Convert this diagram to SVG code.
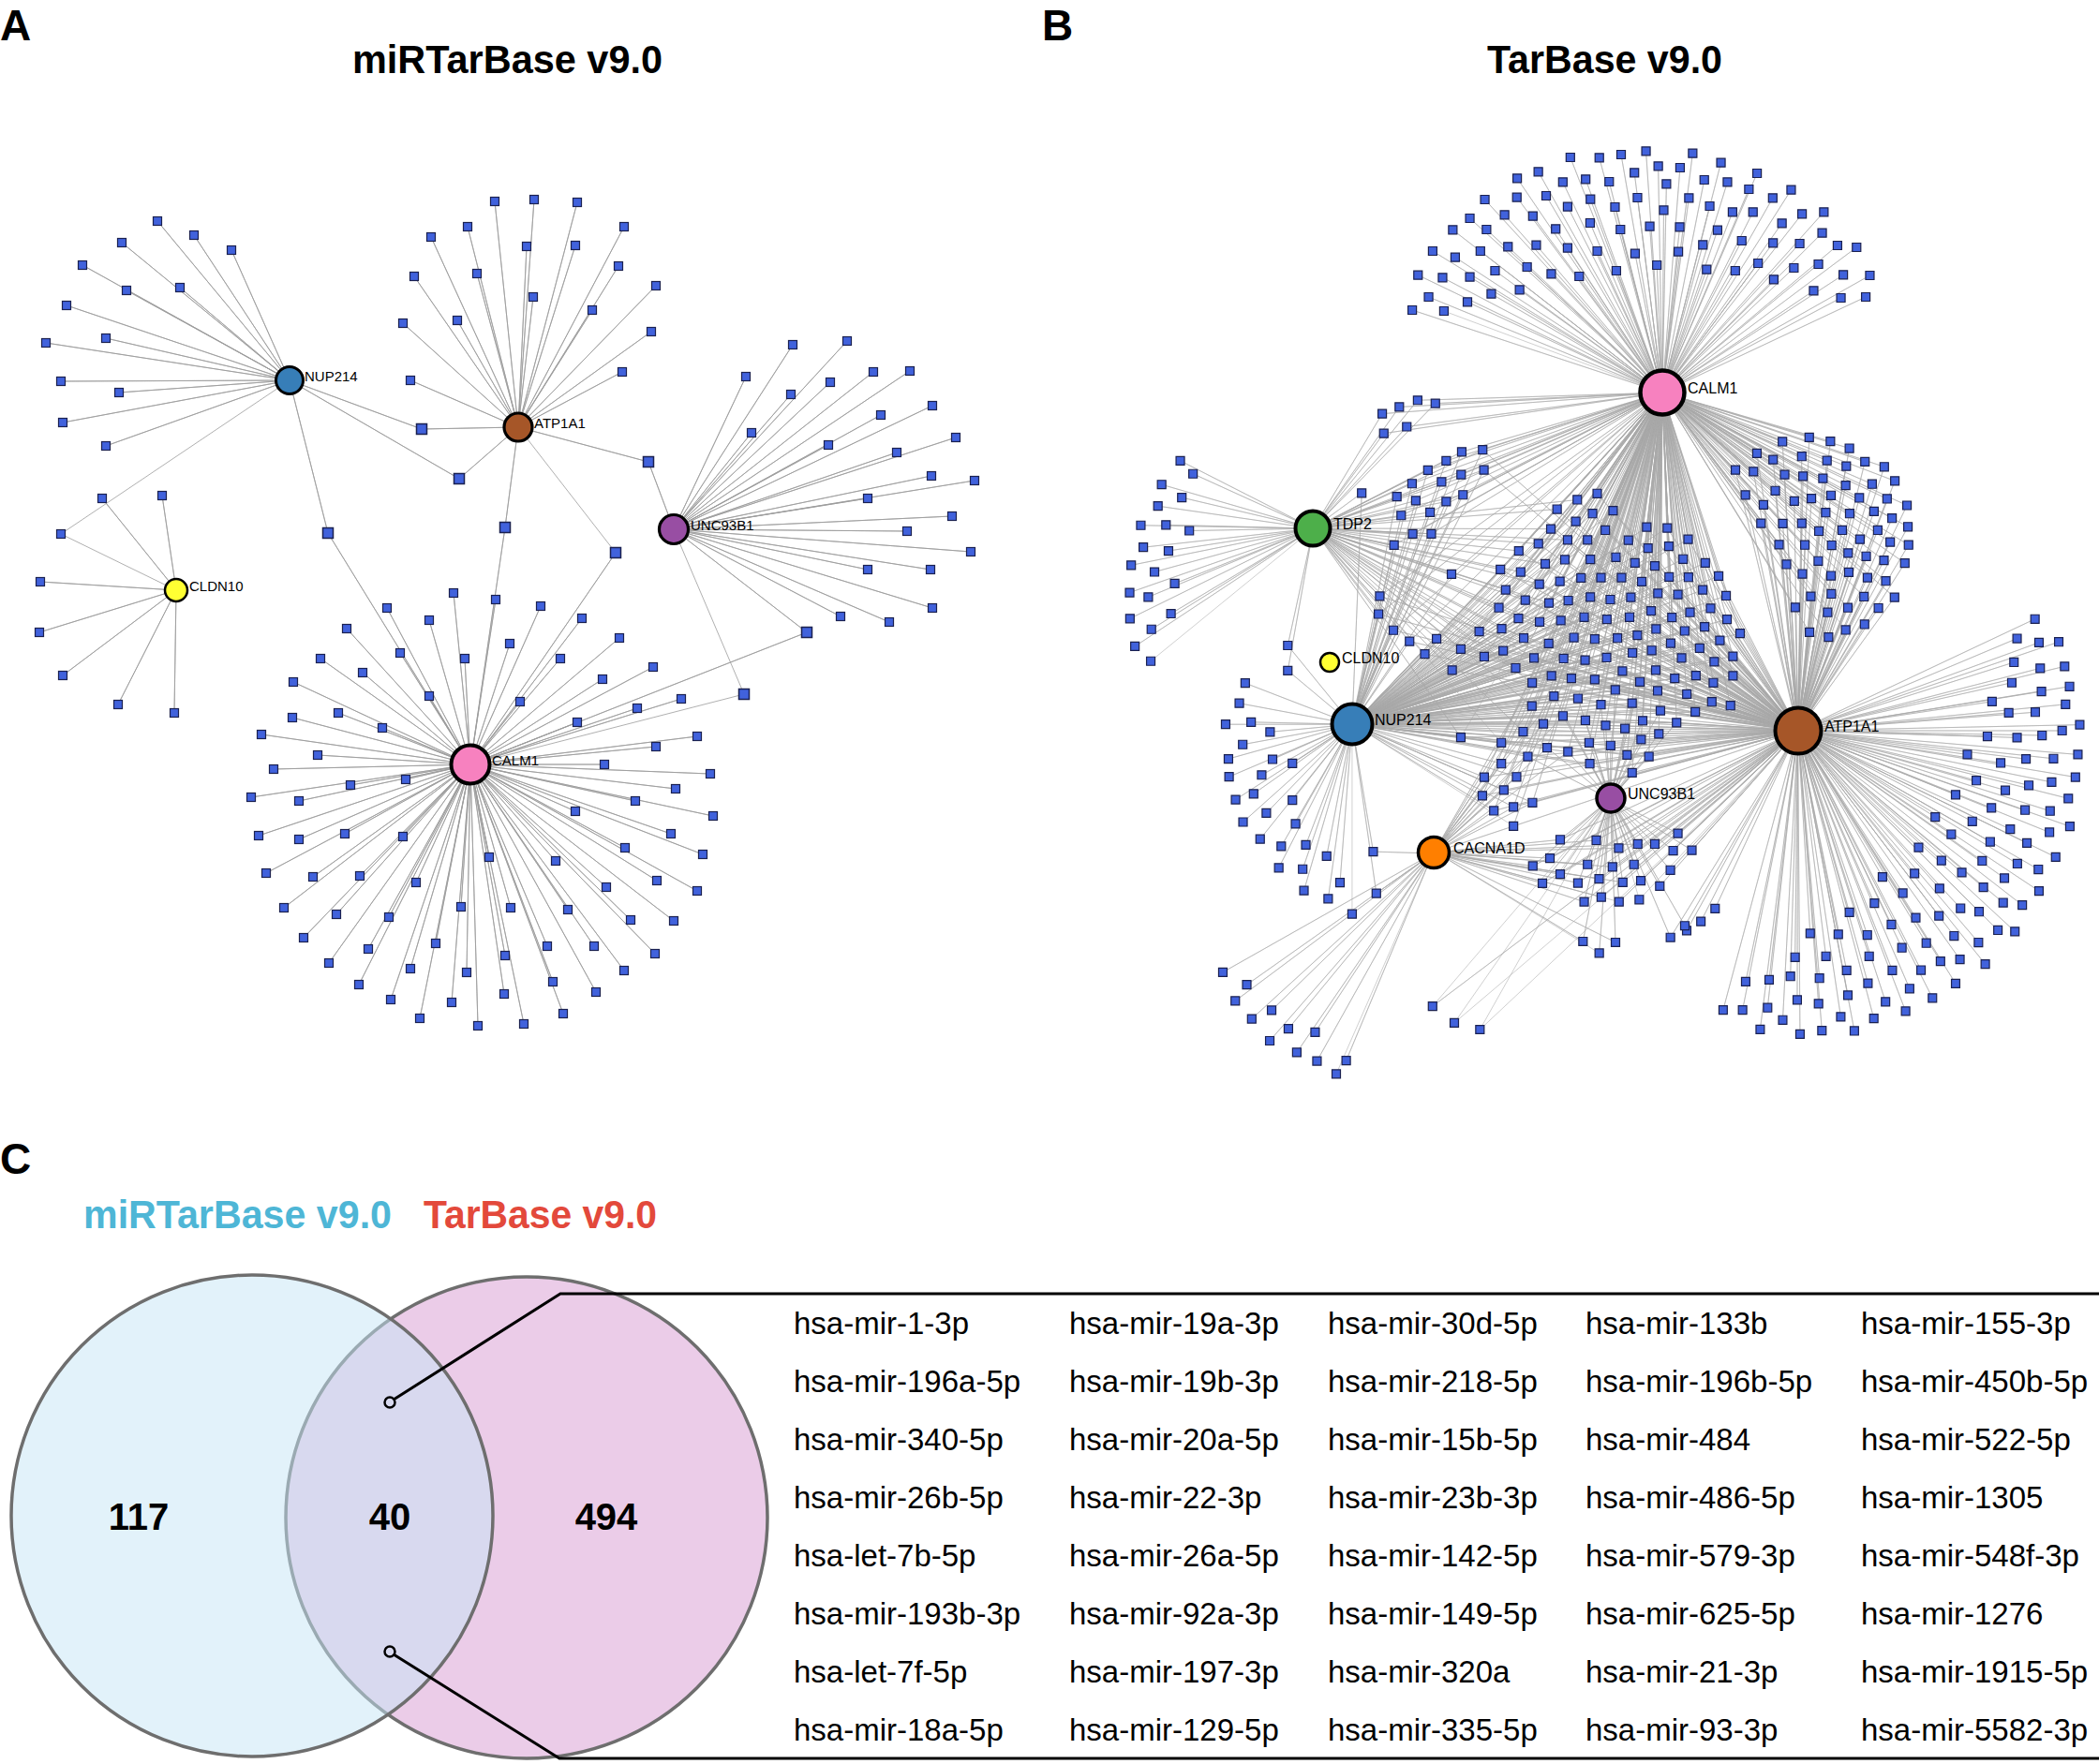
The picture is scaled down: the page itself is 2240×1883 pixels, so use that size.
<svg xmlns="http://www.w3.org/2000/svg" xmlns:xlink="http://www.w3.org/1999/xlink" width="2240" height="1883" viewBox="0 0 2240 1883">
<style>
text{font-family:"Liberation Sans",Arial,sans-serif;fill:#000}
.ttl{font-weight:bold;font-size:42px}
.pl{font-weight:bold;font-size:46px}
.la{font-size:15px}
.lb{font-size:16px}
.tb{font-size:33px}
.num{font-weight:bold;font-size:40px;text-anchor:middle}
.ea{fill:none;stroke:#9c9c9c;stroke-width:0.8;stroke-linejoin:round}
.eb{fill:none;stroke:#a8a8a8;stroke-width:0.55;stroke-linejoin:round;vector-effect:non-scaling-stroke}
.hub{stroke:#000}
</style>
<defs>
<rect id="sa" x="-4.5" y="-4.5" width="9" height="9" fill="#4162dc" stroke="#1b2150" stroke-width="1.2"/>
<rect id="sb" x="-5.5" y="-5.5" width="11" height="11" fill="#4162dc" stroke="#1b2150" stroke-width="1.5"/>
<rect id="q7" x="-12.4" y="-13.5" width="24.8" height="27" fill="#4162dc" stroke="#1b2150" stroke-width="1.2" vector-effect="non-scaling-stroke"/>
<rect id="q8" x="-13.6" y="-9.4" width="27.1" height="18.8" fill="#4162dc" stroke="#1b2150" stroke-width="1.2" vector-effect="non-scaling-stroke"/>
<rect id="q3" x="-13.5" y="-13.5" width="27" height="27" fill="#4162dc" stroke="#1b2150" stroke-width="1.2" vector-effect="non-scaling-stroke"/>
</defs>
<rect width="2240" height="1883" fill="#fff"/>

<!-- Panel titles -->
<text class="pl" x="0" y="43">A</text>
<text class="pl" x="1112" y="43">B</text>
<text class="pl" x="0" y="1253">C</text>
<text class="ttl" x="376" y="78" textLength="331" lengthAdjust="spacingAndGlyphs">miRTarBase v9.0</text>
<text class="ttl" x="1587" y="78" textLength="251" lengthAdjust="spacingAndGlyphs">TarBase v9.0</text>

<g id="connectors">
<g id="edges-A">
<path class="ea" d="M309 406L168 236 309 406 207 251 309 406 247 267 309 406 130 259 309 406 88 283 309 406 135 310 309 406 192 307 309 406 71 326 309 406 113 361 309 406 49 366 309 406 65 407 309 406 127 419 309 406 67 451 309 406 113 476 309 406 450 458 309 406 490 511 309 406 350 569 309 406 65 570"/>
<path class="ea" d="M188 630L109 532 188 630 173 529 188 630 43 621 188 630 42 675 188 630 67 721 188 630 126 752 188 630 186 761 188 630 65 570"/>
<path class="ea" d="M553 456L528 215 553 456 570 213 553 456 616 216 553 456 499 242 553 456 460 253 553 456 562 263 553 456 614 262 553 456 666 242 553 456 442 295 553 456 509 292 553 456 660 284 553 456 569 317 553 456 700 305 553 456 632 331 553 456 430 345 553 456 488 342 553 456 695 354 553 456 664 397 553 456 438 406 553 456 450 458 553 456 490 511 553 456 692 493 553 456 539 563 553 456 657 590"/>
<path class="ea" d="M719 565L846 368 719 565 904 364 719 565 796 402 719 565 844 421 719 565 886 408 719 565 932 397 719 565 971 396 719 565 802 462 719 565 940 443 719 565 995 433 719 565 884 475 719 565 1020 467 719 565 957 483 719 565 994 508 719 565 1040 513 719 565 926 532 719 565 1016 551 719 565 968 567 719 565 1036 589 719 565 926 608 719 565 993 608 719 565 995 649 719 565 897 658 719 565 949 664 719 565 692 493 719 565 861 675 719 565 794 741"/>
<path class="ea" d="M502 816L484 633 502 816 529 640 502 816 577 647 502 816 413 649 502 816 458 662 502 816 621 660 502 816 370 671 502 816 544 687 502 816 661 681 502 816 427 697 502 816 496 703 502 816 598 703 502 816 342 703 502 816 387 718 502 816 697 712 502 816 643 725 502 816 313 728 502 816 458 743 502 816 555 749 502 816 727 746 502 816 680 756 502 816 361 761 502 816 312 766 502 816 408 777 502 816 616 771 502 816 279 784 502 816 744 786 502 816 339 806 502 816 700 797 502 816 292 821 502 816 645 816 502 816 758 826 502 816 433 832 502 816 374 838 502 816 268 851 502 816 319 855 502 816 721 842 502 816 678 855 502 816 614 866 502 816 761 871 502 816 276 892 502 816 319 896 502 816 368 890 502 816 430 893 502 816 716 890 502 816 667 905 502 816 750 912 502 816 522 915 502 816 593 919 502 816 284 932 502 816 334 936 502 816 384 935 502 816 444 942 502 816 701 940 502 816 744 951 502 816 647 947 502 816 303 969 502 816 359 976 502 816 492 968 502 816 545 969 502 816 606 971 502 816 415 979 502 816 719 983 502 816 673 982 502 816 324 1001 502 816 465 1007 502 816 584 1010 502 816 634 1010 502 816 699 1018 502 816 393 1013 502 816 539 1020 502 816 351 1028 502 816 438 1034 502 816 498 1038 502 816 666 1036 502 816 383 1051 502 816 590 1048 502 816 538 1061 502 816 636 1059 502 816 417 1067 502 816 482 1070 502 816 601 1082 502 816 448 1087 502 816 510 1095 502 816 559 1093 502 816 350 569 502 816 539 563 502 816 657 590 502 816 861 675 502 816 794 741"/>
</g>
<g id="edges-B">
<path class="eb" transform="matrix(0.36364 0 0 0.33333 1450 130)" d="M891 867L621 114 891 867 706 115 891 867 770 105 891 867 843 94 891 867 980 101 891 867 1063 131 891 867 1169 165 891 867 879 142 891 867 943 147 891 867 809 163 891 867 1014 186 891 867 1082 193 891 867 1145 216 891 867 1269 218 891 867 1215 244 891 867 465 181 891 867 527 160 891 867 599 193 891 867 666 184 891 867 735 192 891 867 903 199 891 867 370 249 891 867 464 242 891 867 550 237 891 867 613 272 891 867 680 248 891 867 752 273 891 867 818 243 891 867 969 244 891 867 1030 270 891 867 1097 289 891 867 1157 289 891 867 1301 295 891 867 1365 289 891 867 1242 325 891 867 326 309 891 867 428 298 891 867 511 302 891 867 679 324 891 867 768 345 891 867 895 283 891 867 854 335 891 867 942 337 891 867 1053 347 891 867 1360 356 891 867 276 346 891 867 375 345 891 867 578 343 891 867 1124 381 891 867 1216 388 891 867 1294 390 891 867 1405 396 891 867 1461 402 891 867 217 414 891 867 283 434 891 867 357 414 891 867 438 400 891 867 521 395 891 867 613 404 891 867 700 414 891 867 811 422 891 867 938 416 891 867 1010 394 891 867 174 491 891 867 246 499 891 867 326 497 891 867 400 477 891 867 494 465 891 867 565 487 891 867 647 495 891 867 756 477 891 867 875 459 891 867 1021 473 891 867 1105 477 891 867 1172 453 891 867 1277 468 891 867 1349 456 891 867 1422 490 891 867 1500 492 891 867 1218 505 891 867 205 561 891 867 319 577 891 867 389 551 891 867 472 538 891 867 1335 541 891 867 1415 564 891 867 1488 561 891 867 157 603 891 867 250 606"/>
<g transform="matrix(0.33156 0 0 0.47847 1180 400)">
<path class="eb" d="M1792 40L890 87 1792 40 945 72 1792 40 1004 57 1792 40 1061 64 1792 40 895 131 1792 40 969 116 1792 40 1037 213 1792 40 1096 192 1792 40 1146 172 1792 40 986 243 1792 40 1081 239 1792 40 1144 223 1792 40 937 272 1792 40 998 281 1792 40 1096 283 1792 40 1150 268 1792 40 1044 307 1792 40 951 314 1792 40 988 355 1792 40 1048 355 1792 40 928 380 1792 40 1113 445 1792 40 882 494 1792 40 878 534 1792 40 926 570 1792 40 978 595 1792 40 1065 589 1792 40 1027 623 1792 40 1143 612 1792 40 1115 659 1792 40 1143 809"/>
<path class="eb" d="M668 343L890 87 668 343 945 72 668 343 1004 57 668 343 1061 64 668 343 895 131 668 343 969 116 668 343 824 264 668 343 1037 213 668 343 1096 192 668 343 1146 172 668 343 986 243 668 343 1081 239 668 343 1144 223 668 343 937 272 668 343 998 281 668 343 1096 283 668 343 1150 268 668 343 1044 307 668 343 951 314 668 343 988 355 668 343 1048 355 668 343 928 380 668 343 1113 445 668 343 882 494 668 343 878 534 668 343 926 570 668 343 978 595 668 343 1065 589 668 343 1027 623 668 343 1143 612 668 343 1115 659 668 343 1143 809 668 343 586 604 668 343 586 660 668 343 240 192 668 343 281 221 668 343 180 245 668 343 245 274 668 343 168 293 668 343 113 336 668 343 194 335 668 343 269 348 668 343 121 385 668 343 202 393 668 343 82 425 668 343 157 440 668 343 222 466 668 343 77 486 668 343 137 496 668 343 78 544 668 343 210 533 668 343 147 568 668 343 94 606 668 343 145 639"/>
<path class="eb" d="M793 780L824 264 793 780 1037 213 793 780 1096 192 793 780 1146 172 793 780 986 243 793 780 1081 239 793 780 1144 223 793 780 937 272 793 780 998 281 793 780 1096 283 793 780 1150 268 793 780 1044 307 793 780 951 314 793 780 988 355 793 780 1048 355 793 780 928 380 793 780 1113 445 793 780 882 494 793 780 878 534 793 780 926 570 793 780 978 595 793 780 1065 589 793 780 1027 623 793 780 1143 612 793 780 1115 659 793 780 1143 809 793 780 586 604 793 780 586 660 793 780 449 688 793 780 430 733 793 780 386 780 793 780 468 775 793 780 529 797 793 780 441 825 793 780 395 857 793 780 537 858 793 780 601 867 793 780 397 897 793 780 502 893 793 780 418 948 793 780 476 935 793 780 601 949 793 780 517 978 793 780 442 998 793 780 611 1002 793 780 497 1036 793 780 565 1052 793 780 644 1049 793 780 557 1100 793 780 634 1103 793 780 711 1074 793 780 638 1151 793 780 754 1133 793 780 716 1169 793 780 861 1064 793 780 871 1157 793 780 793 1203"/>
<path class="eb" d="M2229 794L882 494 2229 794 878 534 2229 794 926 570 2229 794 978 595 2229 794 1065 589 2229 794 1027 623 2229 794 1143 612 2229 794 1115 659 2229 794 1143 809 2229 794 1052 1409 2229 794 1122 1446 1626 945 1052 1409"/>
<path class="eb" d="M1053 1068L861 1064 1053 1068 871 1157 1053 1068 377 1333 1053 1068 454 1361 1053 1068 417 1397 1053 1068 534 1418 1053 1068 470 1437 1053 1068 588 1459 1053 1068 674 1467 1053 1068 528 1486 1053 1068 615 1512 1053 1068 680 1531 1053 1068 774 1530 1053 1068 742 1560"/>
</g>
<g transform="matrix(0.33223 0 0 0.33501 1560 440)">
<path class="eb" d="M644 -63L67 120 644 -63 71 184 644 -63 435 259 644 -63 371 279 644 -63 306 309 644 -63 420 323 644 -63 486 314 644 -63 366 348 644 -63 286 372 644 -63 461 376 644 -63 594 366 644 -63 660 369 644 -63 246 419 644 -63 340 407 644 -63 404 407 644 -63 535 408 644 -63 598 433 644 -63 665 427 644 -63 727 405 644 -63 183 442 644 -63 331 470 644 -63 413 469 644 -63 495 462 644 -63 268 483 644 -63 556 480 644 -63 620 490 644 -63 711 468 644 -63 782 480 644 -63 124 501 644 -63 189 509 644 -63 249 548 644 -63 315 539 644 -63 383 528 644 -63 447 527 644 -63 513 527 644 -63 578 540 644 -63 666 525 644 -63 728 526 644 -63 825 522 644 -63 141 566 644 -63 204 599 644 -63 280 608 644 -63 342 600 644 -63 413 589 644 -63 477 597 644 -63 543 590 644 -63 630 577 644 -63 694 581 644 -63 774 566 644 -63 849 585 644 -63 119 623 644 -63 182 657 644 -63 250 668 644 -63 318 664 644 -63 393 653 644 -63 466 660 644 -63 539 653 644 -63 608 633 644 -63 675 654 644 -63 733 638 644 -63 799 625 644 -63 852 660 644 -63 56 699 644 -63 128 690 644 -63 199 720 644 -63 279 737 644 -63 360 718 644 -63 427 723 644 -63 500 720 644 -63 564 711 644 -63 624 691 644 -63 716 697 644 -63 780 684 644 -63 894 705 644 -63 72 779 644 -63 133 760 644 -63 232 783 644 -63 327 785 644 -63 396 790 644 -63 465 782 644 -63 548 767 644 -63 610 759 644 -63 671 736 644 -63 764 752 644 -63 829 727 644 -63 706 783 644 -63 871 778 644 -63 173 815 644 -63 288 840 644 -63 352 848 644 -63 427 852 644 -63 516 825 644 -63 623 822 644 -63 684 848 644 -63 752 839 644 -63 811 795 644 -63 871 840 644 -63 226 862 644 -63 296 905 644 -63 373 912 644 -63 493 885 644 -63 572 859 644 -63 629 888 644 -63 723 898 644 -63 808 862 644 -63 225 936 644 -63 325 968 644 -63 447 932 644 -63 547 927 644 -63 638 951 644 -63 750 955 644 -63 803 923 644 -63 863 935 644 -63 197 1018 644 -63 262 993 644 -63 397 982 644 -63 462 998 644 -63 524 1008 644 -63 581 983 644 -63 690 989 644 -63 127 1053 644 -63 274 1069 644 -63 341 1082 644 -63 409 1053 644 -63 478 1062 644 -63 576 1043 644 -63 633 1025 644 -63 212 1097 644 -63 127 1120 644 -63 411 1120 644 -63 531 1092 644 -63 601 1097 644 -63 547 1149 644 -63 72 1163 644 -63 176 1162 644 -63 135 1204 644 -63 66 1222 644 -63 227 1244 644 -63 166 1258 644 -63 103 1270 644 -63 166 1319 644 -63 1030 94 644 -63 1116 80 644 -63 1184 93 644 -63 1245 115 644 -63 948 131 644 -63 1000 151 644 -63 1092 141 644 -63 1173 154 644 -63 1295 158 644 -63 1357 174 644 -63 879 184 644 -63 937 189 644 -63 1037 199 644 -63 1096 204 644 -63 1160 211 644 -63 1235 172 644 -63 1391 219 644 -63 1233 233 644 -63 1318 229 644 -63 911 264 644 -63 1007 250 644 -63 1068 283 644 -63 1123 275 644 -63 1186 265 644 -63 1277 273 644 -63 1366 276 644 -63 1430 297 644 -63 969 295 644 -63 1169 320 644 -63 1246 323 644 -63 1324 316 644 -63 1382 338 644 -63 961 354 644 -63 1031 355 644 -63 1092 354 644 -63 1147 379 644 -63 1222 376 644 -63 1336 376 644 -63 1433 365 644 -63 1019 422 644 -63 1102 423 644 -63 1188 424 644 -63 1279 405 644 -63 1376 414 644 -63 1435 423 644 -63 1241 449 644 -63 1299 459 644 -63 1356 472 644 -63 1423 481 644 -63 1043 485 644 -63 1094 515 644 -63 1145 474 644 -63 1186 521 644 -63 1243 510 644 -63 1303 527 644 -63 1362 538 644 -63 1121 587 644 -63 1187 579 644 -63 1292 588 644 -63 1390 590 644 -63 1071 622 644 -63 1175 638 644 -63 1240 623 644 -63 1117 701 644 -63 1178 717 644 -63 1233 694"/>
<path class="eb" d="M-349 994L67 120 -349 994 71 184 -349 994 435 259 -349 994 371 279 -349 994 306 309 -349 994 420 323 -349 994 486 314 -349 994 366 348 -349 994 286 372 -349 994 461 376 -349 994 594 366 -349 994 660 369 -349 994 246 419 -349 994 340 407 -349 994 404 407 -349 994 535 408 -349 994 598 433 -349 994 665 427 -349 994 727 405 -349 994 183 442 -349 994 331 470 -349 994 413 469 -349 994 495 462 -349 994 268 483 -349 994 556 480 -349 994 620 490 -349 994 711 468 -349 994 782 480 -349 994 124 501 -349 994 189 509 -349 994 249 548 -349 994 315 539 -349 994 383 528 -349 994 447 527 -349 994 513 527 -349 994 578 540 -349 994 666 525 -349 994 728 526 -349 994 825 522 -349 994 141 566 -349 994 204 599 -349 994 280 608 -349 994 342 600 -349 994 413 589 -349 994 477 597 -349 994 543 590 -349 994 630 577 -349 994 694 581 -349 994 774 566 -349 994 849 585 -349 994 119 623 -349 994 182 657 -349 994 250 668 -349 994 318 664 -349 994 393 653 -349 994 466 660 -349 994 539 653 -349 994 608 633 -349 994 675 654 -349 994 733 638 -349 994 799 625 -349 994 852 660 -349 994 56 699 -349 994 128 690 -349 994 199 720 -349 994 279 737 -349 994 360 718 -349 994 427 723 -349 994 500 720 -349 994 564 711 -349 994 624 691 -349 994 716 697 -349 994 780 684 -349 994 894 705 -349 994 72 779 -349 994 133 760 -349 994 232 783 -349 994 327 785 -349 994 396 790 -349 994 465 782 -349 994 548 767 -349 994 610 759 -349 994 671 736 -349 994 764 752 -349 994 829 727 -349 994 706 783 -349 994 871 778 -349 994 173 815 -349 994 288 840 -349 994 352 848 -349 994 427 852 -349 994 516 825 -349 994 623 822 -349 994 684 848 -349 994 752 839 -349 994 811 795 -349 994 871 840 -349 994 226 862 -349 994 296 905 -349 994 373 912 -349 994 493 885 -349 994 572 859 -349 994 629 888 -349 994 723 898 -349 994 808 862 -349 994 225 936 -349 994 325 968 -349 994 447 932 -349 994 547 927 -349 994 638 951 -349 994 750 955 -349 994 803 923 -349 994 863 935 -349 994 197 1018 -349 994 262 993 -349 994 397 982 -349 994 462 998 -349 994 524 1008 -349 994 581 983 -349 994 690 989 -349 994 127 1053 -349 994 274 1069 -349 994 341 1082 -349 994 409 1053 -349 994 478 1062 -349 994 576 1043 -349 994 633 1025 -349 994 212 1097 -349 994 127 1120 -349 994 411 1120 -349 994 531 1092 -349 994 601 1097 -349 994 547 1149 -349 994 72 1163 -349 994 176 1162 -349 994 135 1204 -349 994 66 1222 -349 994 227 1244 -349 994 166 1258 -349 994 103 1270 -349 994 166 1319"/>
<path class="eb" d="M1080 1015L67 120 1080 1015 71 184 1080 1015 435 259 1080 1015 371 279 1080 1015 306 309 1080 1015 420 323 1080 1015 486 314 1080 1015 366 348 1080 1015 286 372 1080 1015 461 376 1080 1015 594 366 1080 1015 660 369 1080 1015 246 419 1080 1015 340 407 1080 1015 404 407 1080 1015 535 408 1080 1015 598 433 1080 1015 665 427 1080 1015 727 405 1080 1015 183 442 1080 1015 331 470 1080 1015 413 469 1080 1015 495 462 1080 1015 268 483 1080 1015 556 480 1080 1015 620 490 1080 1015 711 468 1080 1015 782 480 1080 1015 124 501 1080 1015 189 509 1080 1015 249 548 1080 1015 315 539 1080 1015 383 528 1080 1015 447 527 1080 1015 513 527 1080 1015 578 540 1080 1015 666 525 1080 1015 728 526 1080 1015 825 522 1080 1015 141 566 1080 1015 204 599 1080 1015 280 608 1080 1015 342 600 1080 1015 413 589 1080 1015 477 597 1080 1015 543 590 1080 1015 630 577 1080 1015 694 581 1080 1015 774 566 1080 1015 849 585 1080 1015 119 623 1080 1015 182 657 1080 1015 250 668 1080 1015 318 664 1080 1015 393 653 1080 1015 466 660 1080 1015 539 653 1080 1015 608 633 1080 1015 675 654 1080 1015 733 638 1080 1015 799 625 1080 1015 852 660 1080 1015 56 699 1080 1015 128 690 1080 1015 199 720 1080 1015 279 737 1080 1015 360 718 1080 1015 427 723 1080 1015 500 720 1080 1015 564 711 1080 1015 624 691 1080 1015 716 697 1080 1015 780 684 1080 1015 894 705 1080 1015 72 779 1080 1015 133 760 1080 1015 232 783 1080 1015 327 785 1080 1015 396 790 1080 1015 465 782 1080 1015 548 767 1080 1015 610 759 1080 1015 671 736 1080 1015 764 752 1080 1015 829 727 1080 1015 706 783 1080 1015 871 778 1080 1015 173 815 1080 1015 288 840 1080 1015 352 848 1080 1015 427 852 1080 1015 516 825 1080 1015 623 822 1080 1015 684 848 1080 1015 752 839 1080 1015 811 795 1080 1015 871 840 1080 1015 226 862 1080 1015 296 905 1080 1015 373 912 1080 1015 493 885 1080 1015 572 859 1080 1015 629 888 1080 1015 723 898 1080 1015 808 862 1080 1015 225 936 1080 1015 325 968 1080 1015 447 932 1080 1015 547 927 1080 1015 638 951 1080 1015 750 955 1080 1015 803 923 1080 1015 863 935 1080 1015 197 1018 1080 1015 262 993 1080 1015 397 982 1080 1015 462 998 1080 1015 524 1008 1080 1015 581 983 1080 1015 690 989 1080 1015 127 1053 1080 1015 274 1069 1080 1015 341 1082 1080 1015 409 1053 1080 1015 478 1062 1080 1015 576 1043 1080 1015 633 1025 1080 1015 212 1097 1080 1015 127 1120 1080 1015 411 1120 1080 1015 531 1092 1080 1015 601 1097 1080 1015 547 1149 1080 1015 72 1163 1080 1015 176 1162 1080 1015 135 1204 1080 1015 66 1222 1080 1015 227 1244 1080 1015 166 1258 1080 1015 103 1270 1080 1015 166 1319 1080 1015 1030 94 1080 1015 1116 80 1080 1015 1184 93 1080 1015 1245 115 1080 1015 948 131 1080 1015 1000 151 1080 1015 1092 141 1080 1015 1173 154 1080 1015 1295 158 1080 1015 1357 174 1080 1015 879 184 1080 1015 937 189 1080 1015 1037 199 1080 1015 1096 204 1080 1015 1160 211 1080 1015 1235 172 1080 1015 1391 219 1080 1015 1233 233 1080 1015 1318 229 1080 1015 911 264 1080 1015 1007 250 1080 1015 1068 283 1080 1015 1123 275 1080 1015 1186 265 1080 1015 1277 273 1080 1015 1366 276 1080 1015 1430 297 1080 1015 969 295 1080 1015 1169 320 1080 1015 1246 323 1080 1015 1324 316 1080 1015 1382 338 1080 1015 961 354 1080 1015 1031 355 1080 1015 1092 354 1080 1015 1147 379 1080 1015 1222 376 1080 1015 1336 376 1080 1015 1433 365 1080 1015 1019 422 1080 1015 1102 423 1080 1015 1188 424 1080 1015 1279 405 1080 1015 1376 414 1080 1015 1435 423 1080 1015 1241 449 1080 1015 1299 459 1080 1015 1356 472 1080 1015 1423 481 1080 1015 1043 485 1080 1015 1094 515 1080 1015 1145 474 1080 1015 1186 521 1080 1015 1243 510 1080 1015 1303 527 1080 1015 1362 538 1080 1015 1121 587 1080 1015 1187 579 1080 1015 1292 588 1080 1015 1390 590 1080 1015 1071 622 1080 1015 1175 638 1080 1015 1240 623 1080 1015 1117 701 1080 1015 1178 717 1080 1015 1233 694 1080 1015 316 1362 1080 1015 432 1364 1080 1015 283 1421 1080 1015 504 1389 1080 1015 565 1376 1080 1015 620 1376 1080 1015 694 1342 1080 1015 679 1397 1080 1015 739 1396 1080 1015 228 1446 1080 1015 404 1441 1080 1015 484 1449 1080 1015 553 1441 1080 1015 670 1459 1080 1015 259 1501 1080 1015 316 1472 1080 1015 373 1500 1080 1015 441 1487 1080 1015 517 1498 1080 1015 575 1493 1080 1015 636 1510 1080 1015 448 1545 1080 1015 393 1560 1080 1015 505 1560 1080 1015 570 1553"/>
<path class="eb" d="M-477 370L67 120 -477 370 71 184 -477 370 371 279 -477 370 306 309 -477 370 286 372 -477 370 246 419 -477 370 340 407 -477 370 183 442 -477 370 268 483 -477 370 124 501 -477 370 189 509 -477 370 249 548 -477 370 141 566 -477 370 204 599 -477 370 280 608 -477 370 119 623 -477 370 182 657 -477 370 250 668 -477 370 56 699 -477 370 128 690 -477 370 199 720 -477 370 72 779 -477 370 133 760 -477 370 232 783 -477 370 173 815 -477 370 226 862 -477 370 225 936 -477 370 197 1018 -477 370 127 1053"/>
<path class="eb" d="M477 1233L447 932 477 1233 547 927 477 1233 638 951 477 1233 397 982 477 1233 462 998 477 1233 524 1008 477 1233 581 983 477 1233 690 989 477 1233 341 1082 477 1233 409 1053 477 1233 478 1062 477 1233 576 1043 477 1233 633 1025 477 1233 411 1120 477 1233 531 1092 477 1233 601 1097 477 1233 547 1149 477 1233 373 912 477 1233 493 885 477 1233 572 859 477 1233 296 905 477 1233 325 968 477 1233 274 1069 477 1233 212 1097 477 1233 316 1362 477 1233 432 1364 477 1233 283 1421 477 1233 504 1389 477 1233 565 1376 477 1233 620 1376 477 1233 694 1342 477 1233 679 1397 477 1233 739 1396 477 1233 228 1446 477 1233 404 1441 477 1233 484 1449 477 1233 553 1441 477 1233 670 1459 477 1233 259 1501 477 1233 316 1472 477 1233 373 1500 477 1233 441 1487 477 1233 517 1498 477 1233 575 1493 477 1233 636 1510 477 1233 448 1545 477 1233 393 1560 477 1233 505 1560 477 1233 570 1553"/>
<path class="eb" d="M-90 1403L72 1163 -90 1403 176 1162 -90 1403 135 1204 -90 1403 66 1222 -90 1403 227 1244 -90 1403 166 1258 -90 1403 103 1270 -90 1403 166 1319 -90 1403 127 1120 -90 1403 127 1053 -90 1403 212 1097 -90 1403 274 1069 -90 1403 341 1082 -90 1403 197 1018 -90 1403 262 993 -90 1403 225 936 -90 1403 325 968 -90 1403 296 905 -90 1403 226 862 -90 1403 316 1362 -90 1403 432 1364 -90 1403 283 1421 -90 1403 504 1389 -90 1403 565 1376 -90 1403 228 1446 -90 1403 404 1441 -90 1403 484 1449 -90 1403 259 1501 -90 1403 316 1472 -90 1403 373 1500 -90 1403 441 1487 -90 1403 517 1498 -90 1403 448 1545 -90 1403 393 1560 -90 1403 505 1560"/>
</g>
<path class="eb" transform="matrix(0.32949 0 0 0.3349 1800 640)" d="M360 418L1128 62 360 418 1070 124 360 418 1141 137 360 418 1205 135 360 418 1060 200 360 418 1145 219 360 418 1224 213 360 418 1053 265 360 418 1149 293 360 418 1240 277 360 418 989 325 360 418 1043 361 360 418 1129 359 360 418 1227 334 360 418 974 436 360 418 1070 440 360 418 1151 433 360 418 1216 418 360 418 1273 399 360 418 909 494 360 418 1017 521 360 418 1099 508 360 418 1188 507 360 418 1267 494 360 418 938 577 360 418 1032 608 360 418 1108 592 360 418 1182 582 360 418 1259 566 360 418 871 622 360 418 987 664 360 418 1096 671 360 418 1177 674 360 418 1236 634 360 418 805 693 360 418 925 707 360 418 1048 732 360 418 1175 742 360 418 1241 723 360 418 857 748 360 418 983 772 360 418 1102 776 360 418 751 790 360 418 825 832 360 418 957 833 360 418 1071 842 360 418 1195 821 360 418 1139 860 360 418 634 884 360 418 738 873 360 418 891 870 360 418 1029 888 360 418 961 917 360 418 1141 929 360 418 700 936 360 418 819 921 360 418 608 968 360 418 887 984 360 418 947 995 360 418 1025 966 360 418 1087 974 360 418 527 997 360 418 663 1036 360 418 742 1014 360 418 817 1008 360 418 1008 1054 360 418 1063 1058 360 418 400 1064 360 418 491 1067 360 418 585 1069 360 418 866 1072 360 418 945 1093 360 418 697 1110 360 418 776 1095 360 418 351 1140 360 418 451 1137 360 418 591 1137 360 418 822 1153 360 418 885 1147 360 418 967 1162 360 418 518 1182 360 418 666 1182 360 418 759 1181 360 418 191 1218 360 418 267 1212 360 418 336 1201 360 418 430 1207 360 418 587 1223 360 418 722 1240 360 418 871 1224 360 418 118 1308 360 418 181 1308 360 418 262 1301 360 418 358 1276 360 418 427 1288 360 418 522 1261 360 418 644 1282 360 418 796 1270 360 418 709 1312 360 418 238 1370 360 418 311 1340 360 418 367 1385 360 418 438 1374 360 418 499 1330 360 418 543 1375 360 418 606 1335 360 418 92 985 360 418 46 1026 360 418 0 1055 360 418 621 27 360 418 576 79"/>
<path class="eb" transform="matrix(0.33333 0 0 0.32787 1480 800)" d="M155 333L628 625 155 333 732 628 155 333 680 663M717 155L628 625 717 155 732 628 717 155 680 663 717 155 908 612 717 155 954 574 717 155 298 912M1317 -61L908 612 1317 -61 954 574 1317 -61 298 912"/>
</g>
</g>

<!-- Panel A mirna nodes -->
<g id="A-mirnas">
<g id="A-mir-NUP214">
<use href="#sa" x="168" y="236"/><use href="#sa" x="207" y="251"/><use href="#sa" x="247" y="267"/><use href="#sa" x="130" y="259"/><use href="#sa" x="88" y="283"/><use href="#sa" x="135" y="310"/><use href="#sa" x="192" y="307"/><use href="#sa" x="71" y="326"/><use href="#sa" x="113" y="361"/><use href="#sa" x="49" y="366"/><use href="#sa" x="65" y="407"/><use href="#sa" x="127" y="419"/><use href="#sa" x="67" y="451"/><use href="#sa" x="113" y="476"/><use href="#sa" x="65" y="570"/>
</g>
<g id="A-mir-CLDN10">
<use href="#sa" x="109" y="532"/><use href="#sa" x="173" y="529"/><use href="#sa" x="43" y="621"/><use href="#sa" x="42" y="675"/><use href="#sa" x="67" y="721"/><use href="#sa" x="126" y="752"/><use href="#sa" x="186" y="761"/>
</g>
<g id="A-mir-ATP1A1">
<use href="#sa" x="528" y="215"/><use href="#sa" x="570" y="213"/><use href="#sa" x="616" y="216"/><use href="#sa" x="499" y="242"/><use href="#sa" x="460" y="253"/><use href="#sa" x="562" y="263"/><use href="#sa" x="614" y="262"/><use href="#sa" x="666" y="242"/><use href="#sa" x="442" y="295"/><use href="#sa" x="509" y="292"/><use href="#sa" x="660" y="284"/><use href="#sa" x="569" y="317"/><use href="#sa" x="700" y="305"/><use href="#sa" x="632" y="331"/><use href="#sa" x="430" y="345"/><use href="#sa" x="488" y="342"/><use href="#sa" x="695" y="354"/><use href="#sa" x="664" y="397"/><use href="#sa" x="438" y="406"/>
</g>
<g id="A-mir-UNC93B1">
<use href="#sa" x="846" y="368"/><use href="#sa" x="904" y="364"/><use href="#sa" x="796" y="402"/><use href="#sa" x="844" y="421"/><use href="#sa" x="886" y="408"/><use href="#sa" x="932" y="397"/><use href="#sa" x="971" y="396"/><use href="#sa" x="802" y="462"/><use href="#sa" x="940" y="443"/><use href="#sa" x="995" y="433"/><use href="#sa" x="884" y="475"/><use href="#sa" x="1020" y="467"/><use href="#sa" x="957" y="483"/><use href="#sa" x="994" y="508"/><use href="#sa" x="1040" y="513"/><use href="#sa" x="926" y="532"/><use href="#sa" x="1016" y="551"/><use href="#sa" x="968" y="567"/><use href="#sa" x="1036" y="589"/><use href="#sa" x="926" y="608"/><use href="#sa" x="993" y="608"/><use href="#sa" x="995" y="649"/><use href="#sa" x="897" y="658"/><use href="#sa" x="949" y="664"/>
</g>
<g id="A-mir-CALM1">
<use href="#sa" x="484" y="633"/><use href="#sa" x="529" y="640"/><use href="#sa" x="577" y="647"/><use href="#sa" x="413" y="649"/><use href="#sa" x="458" y="662"/><use href="#sa" x="621" y="660"/><use href="#sa" x="370" y="671"/><use href="#sa" x="544" y="687"/><use href="#sa" x="661" y="681"/><use href="#sa" x="427" y="697"/><use href="#sa" x="496" y="703"/><use href="#sa" x="598" y="703"/><use href="#sa" x="342" y="703"/><use href="#sa" x="387" y="718"/><use href="#sa" x="697" y="712"/><use href="#sa" x="643" y="725"/><use href="#sa" x="313" y="728"/><use href="#sa" x="458" y="743"/><use href="#sa" x="555" y="749"/><use href="#sa" x="727" y="746"/><use href="#sa" x="680" y="756"/><use href="#sa" x="361" y="761"/><use href="#sa" x="312" y="766"/><use href="#sa" x="408" y="777"/><use href="#sa" x="616" y="771"/><use href="#sa" x="279" y="784"/><use href="#sa" x="744" y="786"/><use href="#sa" x="339" y="806"/><use href="#sa" x="700" y="797"/><use href="#sa" x="292" y="821"/><use href="#sa" x="645" y="816"/><use href="#sa" x="758" y="826"/><use href="#sa" x="433" y="832"/><use href="#sa" x="374" y="838"/><use href="#sa" x="268" y="851"/><use href="#sa" x="319" y="855"/><use href="#sa" x="721" y="842"/><use href="#sa" x="678" y="855"/><use href="#sa" x="614" y="866"/><use href="#sa" x="761" y="871"/><use href="#sa" x="276" y="892"/><use href="#sa" x="319" y="896"/><use href="#sa" x="368" y="890"/><use href="#sa" x="430" y="893"/><use href="#sa" x="716" y="890"/><use href="#sa" x="667" y="905"/><use href="#sa" x="750" y="912"/><use href="#sa" x="522" y="915"/><use href="#sa" x="593" y="919"/><use href="#sa" x="284" y="932"/><use href="#sa" x="334" y="936"/><use href="#sa" x="384" y="935"/><use href="#sa" x="444" y="942"/><use href="#sa" x="701" y="940"/><use href="#sa" x="744" y="951"/><use href="#sa" x="647" y="947"/><use href="#sa" x="303" y="969"/><use href="#sa" x="359" y="976"/><use href="#sa" x="492" y="968"/><use href="#sa" x="545" y="969"/><use href="#sa" x="606" y="971"/><use href="#sa" x="415" y="979"/><use href="#sa" x="719" y="983"/><use href="#sa" x="673" y="982"/><use href="#sa" x="324" y="1001"/><use href="#sa" x="465" y="1007"/><use href="#sa" x="584" y="1010"/><use href="#sa" x="634" y="1010"/><use href="#sa" x="699" y="1018"/><use href="#sa" x="393" y="1013"/><use href="#sa" x="539" y="1020"/><use href="#sa" x="351" y="1028"/><use href="#sa" x="438" y="1034"/><use href="#sa" x="498" y="1038"/><use href="#sa" x="666" y="1036"/><use href="#sa" x="383" y="1051"/><use href="#sa" x="590" y="1048"/><use href="#sa" x="538" y="1061"/><use href="#sa" x="636" y="1059"/><use href="#sa" x="417" y="1067"/><use href="#sa" x="482" y="1070"/><use href="#sa" x="601" y="1082"/><use href="#sa" x="448" y="1087"/><use href="#sa" x="510" y="1095"/><use href="#sa" x="559" y="1093"/>
</g>
<g id="A-mir-shared">
<use href="#sb" x="450" y="458"/><use href="#sb" x="490" y="511"/><use href="#sb" x="350" y="569"/><use href="#sb" x="692" y="493"/><use href="#sb" x="539" y="563"/><use href="#sb" x="657" y="590"/><use href="#sb" x="861" y="675"/><use href="#sb" x="794" y="741"/>
</g>
</g>

<!-- Panel A hubs -->
<g id="A-NUP214"><circle class="hub" cx="309" cy="406" r="14.5" fill="#377eb8" stroke-width="3"/><text class="la" x="325" y="407">NUP214</text></g>
<g id="A-CLDN10"><circle class="hub" cx="188" cy="630" r="12" fill="#ffff33" stroke-width="2.5"/><text class="la" x="202" y="631">CLDN10</text></g>
<g id="A-ATP1A1"><circle class="hub" cx="553" cy="456" r="15" fill="#a65628" stroke-width="3.2"/><text class="la" x="570" y="457">ATP1A1</text></g>
<g id="A-UNC93B1"><circle class="hub" cx="719" cy="565" r="15.5" fill="#984ea3" stroke-width="3.2"/><text class="la" x="737" y="566">UNC93B1</text></g>
<g id="A-CALM1"><circle class="hub" cx="502" cy="816" r="20.5" fill="#f781bf" stroke-width="4"/><text class="la" x="525" y="817">CALM1</text></g>

<!-- Panel B mirna nodes -->
<g id="B-mirnas">
<g id="B-mir-CALM1-top" transform="matrix(0.36364 0 0 0.33333 1450 130)">
<use href="#q7" x="621" y="114"/><use href="#q7" x="706" y="115"/><use href="#q7" x="770" y="105"/><use href="#q7" x="843" y="94"/><use href="#q7" x="980" y="101"/><use href="#q7" x="1063" y="131"/><use href="#q7" x="1169" y="165"/><use href="#q7" x="879" y="142"/><use href="#q7" x="943" y="147"/><use href="#q7" x="809" y="163"/><use href="#q7" x="1014" y="186"/><use href="#q7" x="1082" y="193"/><use href="#q7" x="1145" y="216"/><use href="#q7" x="1269" y="218"/><use href="#q7" x="1215" y="244"/><use href="#q7" x="465" y="181"/><use href="#q7" x="527" y="160"/><use href="#q7" x="599" y="193"/><use href="#q7" x="666" y="184"/><use href="#q7" x="735" y="192"/><use href="#q7" x="903" y="199"/><use href="#q7" x="370" y="249"/><use href="#q7" x="464" y="242"/><use href="#q7" x="550" y="237"/><use href="#q7" x="613" y="272"/><use href="#q7" x="680" y="248"/><use href="#q7" x="752" y="273"/><use href="#q7" x="818" y="243"/><use href="#q7" x="969" y="244"/><use href="#q7" x="1030" y="270"/><use href="#q7" x="1097" y="289"/><use href="#q7" x="1157" y="289"/><use href="#q7" x="1301" y="295"/><use href="#q7" x="1365" y="289"/><use href="#q7" x="1242" y="325"/><use href="#q7" x="326" y="309"/><use href="#q7" x="428" y="298"/><use href="#q7" x="511" y="302"/><use href="#q7" x="679" y="324"/><use href="#q7" x="768" y="345"/><use href="#q7" x="895" y="283"/><use href="#q7" x="854" y="335"/><use href="#q7" x="942" y="337"/><use href="#q7" x="1053" y="347"/><use href="#q7" x="1360" y="356"/><use href="#q7" x="276" y="346"/><use href="#q7" x="375" y="345"/><use href="#q7" x="578" y="343"/><use href="#q7" x="1124" y="381"/><use href="#q7" x="1216" y="388"/><use href="#q7" x="1294" y="390"/><use href="#q7" x="1405" y="396"/><use href="#q7" x="1461" y="402"/><use href="#q7" x="217" y="414"/><use href="#q7" x="283" y="434"/><use href="#q7" x="357" y="414"/><use href="#q7" x="438" y="400"/><use href="#q7" x="521" y="395"/><use href="#q7" x="613" y="404"/><use href="#q7" x="700" y="414"/><use href="#q7" x="811" y="422"/><use href="#q7" x="938" y="416"/><use href="#q7" x="1010" y="394"/><use href="#q7" x="174" y="491"/><use href="#q7" x="246" y="499"/><use href="#q7" x="326" y="497"/><use href="#q7" x="400" y="477"/><use href="#q7" x="494" y="465"/><use href="#q7" x="565" y="487"/><use href="#q7" x="647" y="495"/><use href="#q7" x="756" y="477"/><use href="#q7" x="875" y="459"/><use href="#q7" x="1021" y="473"/><use href="#q7" x="1105" y="477"/><use href="#q7" x="1172" y="453"/><use href="#q7" x="1277" y="468"/><use href="#q7" x="1349" y="456"/><use href="#q7" x="1422" y="490"/><use href="#q7" x="1500" y="492"/><use href="#q7" x="1218" y="505"/><use href="#q7" x="205" y="561"/><use href="#q7" x="319" y="577"/><use href="#q7" x="389" y="551"/><use href="#q7" x="472" y="538"/><use href="#q7" x="1335" y="541"/><use href="#q7" x="1415" y="564"/><use href="#q7" x="1488" y="561"/><use href="#q7" x="157" y="603"/><use href="#q7" x="250" y="606"/>
</g>
<g id="B-mir-left" transform="matrix(0.33156 0 0 0.47847 1180 400)">
<use href="#q8" x="890" y="87"/><use href="#q8" x="945" y="72"/><use href="#q8" x="1004" y="57"/><use href="#q8" x="1061" y="64"/><use href="#q8" x="895" y="131"/><use href="#q8" x="969" y="116"/><use href="#q8" x="824" y="264"/><use href="#q8" x="1037" y="213"/><use href="#q8" x="1096" y="192"/><use href="#q8" x="1146" y="172"/><use href="#q8" x="986" y="243"/><use href="#q8" x="1081" y="239"/><use href="#q8" x="1144" y="223"/><use href="#q8" x="937" y="272"/><use href="#q8" x="998" y="281"/><use href="#q8" x="1096" y="283"/><use href="#q8" x="1150" y="268"/><use href="#q8" x="1044" y="307"/><use href="#q8" x="951" y="314"/><use href="#q8" x="988" y="355"/><use href="#q8" x="1048" y="355"/><use href="#q8" x="928" y="380"/><use href="#q8" x="1113" y="445"/><use href="#q8" x="882" y="494"/><use href="#q8" x="878" y="534"/><use href="#q8" x="926" y="570"/><use href="#q8" x="978" y="595"/><use href="#q8" x="1065" y="589"/><use href="#q8" x="1027" y="623"/><use href="#q8" x="1143" y="612"/><use href="#q8" x="1115" y="659"/><use href="#q8" x="1143" y="809"/>
<use href="#q8" x="240" y="192"/><use href="#q8" x="281" y="221"/><use href="#q8" x="180" y="245"/><use href="#q8" x="245" y="274"/><use href="#q8" x="168" y="293"/><use href="#q8" x="113" y="336"/><use href="#q8" x="194" y="335"/><use href="#q8" x="269" y="348"/><use href="#q8" x="121" y="385"/><use href="#q8" x="202" y="393"/><use href="#q8" x="82" y="425"/><use href="#q8" x="157" y="440"/><use href="#q8" x="222" y="466"/><use href="#q8" x="77" y="486"/><use href="#q8" x="137" y="496"/><use href="#q8" x="78" y="544"/><use href="#q8" x="210" y="533"/><use href="#q8" x="147" y="568"/><use href="#q8" x="94" y="606"/><use href="#q8" x="145" y="639"/>
<use href="#q8" x="586" y="604"/><use href="#q8" x="586" y="660"/><use href="#q8" x="449" y="688"/><use href="#q8" x="430" y="733"/><use href="#q8" x="386" y="780"/><use href="#q8" x="468" y="775"/><use href="#q8" x="529" y="797"/><use href="#q8" x="441" y="825"/><use href="#q8" x="395" y="857"/><use href="#q8" x="537" y="858"/><use href="#q8" x="601" y="867"/><use href="#q8" x="397" y="897"/><use href="#q8" x="502" y="893"/><use href="#q8" x="418" y="948"/><use href="#q8" x="476" y="935"/><use href="#q8" x="601" y="949"/><use href="#q8" x="517" y="978"/><use href="#q8" x="442" y="998"/><use href="#q8" x="611" y="1002"/><use href="#q8" x="497" y="1036"/><use href="#q8" x="565" y="1052"/><use href="#q8" x="644" y="1049"/><use href="#q8" x="557" y="1100"/><use href="#q8" x="634" y="1103"/><use href="#q8" x="711" y="1074"/><use href="#q8" x="638" y="1151"/><use href="#q8" x="754" y="1133"/><use href="#q8" x="716" y="1169"/><use href="#q8" x="861" y="1064"/><use href="#q8" x="871" y="1157"/><use href="#q8" x="793" y="1203"/>
<use href="#q8" x="377" y="1333"/><use href="#q8" x="454" y="1361"/><use href="#q8" x="417" y="1397"/><use href="#q8" x="534" y="1418"/><use href="#q8" x="470" y="1437"/><use href="#q8" x="588" y="1459"/><use href="#q8" x="674" y="1467"/><use href="#q8" x="528" y="1486"/><use href="#q8" x="615" y="1512"/><use href="#q8" x="680" y="1531"/><use href="#q8" x="774" y="1530"/><use href="#q8" x="742" y="1560"/><use href="#q8" x="1052" y="1409"/><use href="#q8" x="1122" y="1446"/>
</g>
<g id="B-mir-center" transform="matrix(0.33223 0 0 0.33501 1560 440)">
<use href="#q3" x="67" y="120"/><use href="#q3" x="71" y="184"/><use href="#q3" x="435" y="259"/><use href="#q3" x="371" y="279"/><use href="#q3" x="306" y="309"/><use href="#q3" x="420" y="323"/><use href="#q3" x="486" y="314"/><use href="#q3" x="366" y="348"/><use href="#q3" x="286" y="372"/><use href="#q3" x="461" y="376"/><use href="#q3" x="594" y="366"/><use href="#q3" x="660" y="369"/><use href="#q3" x="246" y="419"/><use href="#q3" x="340" y="407"/><use href="#q3" x="404" y="407"/><use href="#q3" x="535" y="408"/><use href="#q3" x="598" y="433"/><use href="#q3" x="665" y="427"/><use href="#q3" x="727" y="405"/><use href="#q3" x="183" y="442"/><use href="#q3" x="331" y="470"/><use href="#q3" x="413" y="469"/><use href="#q3" x="495" y="462"/><use href="#q3" x="268" y="483"/><use href="#q3" x="556" y="480"/><use href="#q3" x="620" y="490"/><use href="#q3" x="711" y="468"/><use href="#q3" x="782" y="480"/><use href="#q3" x="124" y="501"/><use href="#q3" x="189" y="509"/><use href="#q3" x="249" y="548"/><use href="#q3" x="315" y="539"/><use href="#q3" x="383" y="528"/><use href="#q3" x="447" y="527"/><use href="#q3" x="513" y="527"/><use href="#q3" x="578" y="540"/><use href="#q3" x="666" y="525"/><use href="#q3" x="728" y="526"/><use href="#q3" x="825" y="522"/><use href="#q3" x="141" y="566"/><use href="#q3" x="204" y="599"/><use href="#q3" x="280" y="608"/><use href="#q3" x="342" y="600"/><use href="#q3" x="413" y="589"/><use href="#q3" x="477" y="597"/><use href="#q3" x="543" y="590"/><use href="#q3" x="630" y="577"/><use href="#q3" x="694" y="581"/><use href="#q3" x="774" y="566"/><use href="#q3" x="849" y="585"/><use href="#q3" x="119" y="623"/><use href="#q3" x="182" y="657"/><use href="#q3" x="250" y="668"/><use href="#q3" x="318" y="664"/><use href="#q3" x="393" y="653"/><use href="#q3" x="466" y="660"/><use href="#q3" x="539" y="653"/><use href="#q3" x="608" y="633"/><use href="#q3" x="675" y="654"/><use href="#q3" x="733" y="638"/><use href="#q3" x="799" y="625"/><use href="#q3" x="852" y="660"/><use href="#q3" x="56" y="699"/><use href="#q3" x="128" y="690"/><use href="#q3" x="199" y="720"/><use href="#q3" x="279" y="737"/><use href="#q3" x="360" y="718"/><use href="#q3" x="427" y="723"/><use href="#q3" x="500" y="720"/><use href="#q3" x="564" y="711"/><use href="#q3" x="624" y="691"/><use href="#q3" x="716" y="697"/><use href="#q3" x="780" y="684"/><use href="#q3" x="894" y="705"/><use href="#q3" x="72" y="779"/><use href="#q3" x="133" y="760"/><use href="#q3" x="232" y="783"/><use href="#q3" x="327" y="785"/><use href="#q3" x="396" y="790"/><use href="#q3" x="465" y="782"/><use href="#q3" x="548" y="767"/><use href="#q3" x="610" y="759"/><use href="#q3" x="671" y="736"/><use href="#q3" x="764" y="752"/><use href="#q3" x="829" y="727"/><use href="#q3" x="706" y="783"/><use href="#q3" x="871" y="778"/><use href="#q3" x="173" y="815"/><use href="#q3" x="288" y="840"/><use href="#q3" x="352" y="848"/><use href="#q3" x="427" y="852"/><use href="#q3" x="516" y="825"/><use href="#q3" x="623" y="822"/><use href="#q3" x="684" y="848"/><use href="#q3" x="752" y="839"/><use href="#q3" x="811" y="795"/><use href="#q3" x="871" y="840"/><use href="#q3" x="226" y="862"/><use href="#q3" x="296" y="905"/><use href="#q3" x="373" y="912"/><use href="#q3" x="493" y="885"/><use href="#q3" x="572" y="859"/><use href="#q3" x="629" y="888"/><use href="#q3" x="723" y="898"/><use href="#q3" x="808" y="862"/><use href="#q3" x="225" y="936"/><use href="#q3" x="325" y="968"/><use href="#q3" x="447" y="932"/><use href="#q3" x="547" y="927"/><use href="#q3" x="638" y="951"/><use href="#q3" x="750" y="955"/><use href="#q3" x="803" y="923"/><use href="#q3" x="863" y="935"/><use href="#q3" x="197" y="1018"/><use href="#q3" x="262" y="993"/><use href="#q3" x="397" y="982"/><use href="#q3" x="462" y="998"/><use href="#q3" x="524" y="1008"/><use href="#q3" x="581" y="983"/><use href="#q3" x="690" y="989"/><use href="#q3" x="127" y="1053"/><use href="#q3" x="274" y="1069"/><use href="#q3" x="341" y="1082"/><use href="#q3" x="409" y="1053"/><use href="#q3" x="478" y="1062"/><use href="#q3" x="576" y="1043"/><use href="#q3" x="633" y="1025"/><use href="#q3" x="212" y="1097"/><use href="#q3" x="127" y="1120"/><use href="#q3" x="411" y="1120"/><use href="#q3" x="531" y="1092"/><use href="#q3" x="601" y="1097"/><use href="#q3" x="547" y="1149"/><use href="#q3" x="72" y="1163"/><use href="#q3" x="176" y="1162"/><use href="#q3" x="135" y="1204"/><use href="#q3" x="66" y="1222"/><use href="#q3" x="227" y="1244"/><use href="#q3" x="166" y="1258"/><use href="#q3" x="103" y="1270"/><use href="#q3" x="166" y="1319"/>
<use href="#q3" x="316" y="1362"/><use href="#q3" x="432" y="1364"/><use href="#q3" x="283" y="1421"/><use href="#q3" x="504" y="1389"/><use href="#q3" x="565" y="1376"/><use href="#q3" x="620" y="1376"/><use href="#q3" x="694" y="1342"/><use href="#q3" x="679" y="1397"/><use href="#q3" x="739" y="1396"/><use href="#q3" x="228" y="1446"/><use href="#q3" x="404" y="1441"/><use href="#q3" x="484" y="1449"/><use href="#q3" x="553" y="1441"/><use href="#q3" x="670" y="1459"/><use href="#q3" x="259" y="1501"/><use href="#q3" x="316" y="1472"/><use href="#q3" x="373" y="1500"/><use href="#q3" x="441" y="1487"/><use href="#q3" x="517" y="1498"/><use href="#q3" x="575" y="1493"/><use href="#q3" x="636" y="1510"/><use href="#q3" x="448" y="1545"/><use href="#q3" x="393" y="1560"/><use href="#q3" x="505" y="1560"/><use href="#q3" x="570" y="1553"/>
<use href="#q3" x="1030" y="94"/><use href="#q3" x="1116" y="80"/><use href="#q3" x="1184" y="93"/><use href="#q3" x="1245" y="115"/><use href="#q3" x="948" y="131"/><use href="#q3" x="1000" y="151"/><use href="#q3" x="1092" y="141"/><use href="#q3" x="1173" y="154"/><use href="#q3" x="1295" y="158"/><use href="#q3" x="1357" y="174"/><use href="#q3" x="879" y="184"/><use href="#q3" x="937" y="189"/><use href="#q3" x="1037" y="199"/><use href="#q3" x="1096" y="204"/><use href="#q3" x="1160" y="211"/><use href="#q3" x="1235" y="172"/><use href="#q3" x="1391" y="219"/><use href="#q3" x="1233" y="233"/><use href="#q3" x="1318" y="229"/><use href="#q3" x="911" y="264"/><use href="#q3" x="1007" y="250"/><use href="#q3" x="1068" y="283"/><use href="#q3" x="1123" y="275"/><use href="#q3" x="1186" y="265"/><use href="#q3" x="1277" y="273"/><use href="#q3" x="1366" y="276"/><use href="#q3" x="1430" y="297"/><use href="#q3" x="969" y="295"/><use href="#q3" x="1169" y="320"/><use href="#q3" x="1246" y="323"/><use href="#q3" x="1324" y="316"/><use href="#q3" x="1382" y="338"/><use href="#q3" x="961" y="354"/><use href="#q3" x="1031" y="355"/><use href="#q3" x="1092" y="354"/><use href="#q3" x="1147" y="379"/><use href="#q3" x="1222" y="376"/><use href="#q3" x="1336" y="376"/><use href="#q3" x="1433" y="365"/><use href="#q3" x="1019" y="422"/><use href="#q3" x="1102" y="423"/><use href="#q3" x="1188" y="424"/><use href="#q3" x="1279" y="405"/><use href="#q3" x="1376" y="414"/><use href="#q3" x="1435" y="423"/><use href="#q3" x="1241" y="449"/><use href="#q3" x="1299" y="459"/><use href="#q3" x="1356" y="472"/><use href="#q3" x="1423" y="481"/><use href="#q3" x="1043" y="485"/><use href="#q3" x="1094" y="515"/><use href="#q3" x="1145" y="474"/><use href="#q3" x="1186" y="521"/><use href="#q3" x="1243" y="510"/><use href="#q3" x="1303" y="527"/><use href="#q3" x="1362" y="538"/><use href="#q3" x="1121" y="587"/><use href="#q3" x="1187" y="579"/><use href="#q3" x="1292" y="588"/><use href="#q3" x="1390" y="590"/><use href="#q3" x="1071" y="622"/><use href="#q3" x="1175" y="638"/><use href="#q3" x="1240" y="623"/><use href="#q3" x="1117" y="701"/><use href="#q3" x="1178" y="717"/><use href="#q3" x="1233" y="694"/>
</g>
<g id="B-mir-ATP1A1-fan" transform="matrix(0.32949 0 0 0.3349 1800 640)">
<use href="#q3" x="1128" y="62"/><use href="#q3" x="1070" y="124"/><use href="#q3" x="1141" y="137"/><use href="#q3" x="1205" y="135"/><use href="#q3" x="1060" y="200"/><use href="#q3" x="1145" y="219"/><use href="#q3" x="1224" y="213"/><use href="#q3" x="1053" y="265"/><use href="#q3" x="1149" y="293"/><use href="#q3" x="1240" y="277"/><use href="#q3" x="989" y="325"/><use href="#q3" x="1043" y="361"/><use href="#q3" x="1129" y="359"/><use href="#q3" x="1227" y="334"/><use href="#q3" x="974" y="436"/><use href="#q3" x="1070" y="440"/><use href="#q3" x="1151" y="433"/><use href="#q3" x="1216" y="418"/><use href="#q3" x="1273" y="399"/><use href="#q3" x="909" y="494"/><use href="#q3" x="1017" y="521"/><use href="#q3" x="1099" y="508"/><use href="#q3" x="1188" y="507"/><use href="#q3" x="1267" y="494"/><use href="#q3" x="938" y="577"/><use href="#q3" x="1032" y="608"/><use href="#q3" x="1108" y="592"/><use href="#q3" x="1182" y="582"/><use href="#q3" x="1259" y="566"/><use href="#q3" x="871" y="622"/><use href="#q3" x="987" y="664"/><use href="#q3" x="1096" y="671"/><use href="#q3" x="1177" y="674"/><use href="#q3" x="1236" y="634"/><use href="#q3" x="805" y="693"/><use href="#q3" x="925" y="707"/><use href="#q3" x="1048" y="732"/><use href="#q3" x="1175" y="742"/><use href="#q3" x="1241" y="723"/><use href="#q3" x="857" y="748"/><use href="#q3" x="983" y="772"/><use href="#q3" x="1102" y="776"/><use href="#q3" x="751" y="790"/><use href="#q3" x="825" y="832"/><use href="#q3" x="957" y="833"/><use href="#q3" x="1071" y="842"/><use href="#q3" x="1195" y="821"/><use href="#q3" x="1139" y="860"/><use href="#q3" x="634" y="884"/><use href="#q3" x="738" y="873"/><use href="#q3" x="891" y="870"/><use href="#q3" x="1029" y="888"/><use href="#q3" x="961" y="917"/><use href="#q3" x="1141" y="929"/><use href="#q3" x="700" y="936"/><use href="#q3" x="819" y="921"/><use href="#q3" x="608" y="968"/><use href="#q3" x="887" y="984"/><use href="#q3" x="947" y="995"/><use href="#q3" x="1025" y="966"/><use href="#q3" x="1087" y="974"/><use href="#q3" x="527" y="997"/><use href="#q3" x="663" y="1036"/><use href="#q3" x="742" y="1014"/><use href="#q3" x="817" y="1008"/><use href="#q3" x="1008" y="1054"/><use href="#q3" x="1063" y="1058"/><use href="#q3" x="400" y="1064"/><use href="#q3" x="491" y="1067"/><use href="#q3" x="585" y="1069"/><use href="#q3" x="866" y="1072"/><use href="#q3" x="945" y="1093"/><use href="#q3" x="697" y="1110"/><use href="#q3" x="776" y="1095"/><use href="#q3" x="351" y="1140"/><use href="#q3" x="451" y="1137"/><use href="#q3" x="591" y="1137"/><use href="#q3" x="822" y="1153"/><use href="#q3" x="885" y="1147"/><use href="#q3" x="967" y="1162"/><use href="#q3" x="518" y="1182"/><use href="#q3" x="666" y="1182"/><use href="#q3" x="759" y="1181"/><use href="#q3" x="191" y="1218"/><use href="#q3" x="267" y="1212"/><use href="#q3" x="336" y="1201"/><use href="#q3" x="430" y="1207"/><use href="#q3" x="587" y="1223"/><use href="#q3" x="722" y="1240"/><use href="#q3" x="871" y="1224"/><use href="#q3" x="118" y="1308"/><use href="#q3" x="181" y="1308"/><use href="#q3" x="262" y="1301"/><use href="#q3" x="358" y="1276"/><use href="#q3" x="427" y="1288"/><use href="#q3" x="522" y="1261"/><use href="#q3" x="644" y="1282"/><use href="#q3" x="796" y="1270"/><use href="#q3" x="709" y="1312"/><use href="#q3" x="238" y="1370"/><use href="#q3" x="311" y="1340"/><use href="#q3" x="367" y="1385"/><use href="#q3" x="438" y="1374"/><use href="#q3" x="499" y="1330"/><use href="#q3" x="543" y="1375"/><use href="#q3" x="606" y="1335"/><use href="#q3" x="92" y="985"/><use href="#q3" x="46" y="1026"/><use href="#q3" x="0" y="1055"/><use href="#q3" x="621" y="27"/><use href="#q3" x="576" y="79"/>
</g>
<g id="B-mir-bottom" transform="matrix(0.33333 0 0 0.32787 1480 800)">
<use href="#q3" x="628" y="625"/><use href="#q3" x="732" y="628"/><use href="#q3" x="680" y="663"/><use href="#q3" x="908" y="612"/><use href="#q3" x="954" y="574"/><use href="#q3" x="298" y="912"/>
</g>
</g>

<!-- Panel B hubs -->
<g id="B-CALM1"><circle class="hub" cx="1774" cy="419" r="23.5" fill="#f781bf" stroke-width="4.5"/><text class="lb" x="1801" y="420">CALM1</text></g>
<g id="B-TDP2"><circle class="hub" cx="1401" cy="564" r="18.5" fill="#4daf4a" stroke-width="4"/><text class="lb" x="1423" y="565">TDP2</text></g>
<g id="B-CLDN10"><circle class="hub" cx="1419" cy="707" r="10" fill="#ffff33" stroke-width="2.5"/><text class="lb" x="1432" y="708">CLDN10</text></g>
<g id="B-NUP214"><circle class="hub" cx="1443" cy="773" r="21.5" fill="#377eb8" stroke-width="4"/><text class="lb" x="1467" y="774">NUP214</text></g>
<g id="B-CACNA1D"><circle class="hub" cx="1530" cy="910" r="16.5" fill="#ff7f00" stroke-width="3.5"/><text class="lb" x="1551" y="911">CACNA1D</text></g>
<g id="B-UNC93B1"><circle class="hub" cx="1719" cy="852" r="15" fill="#984ea3" stroke-width="3.5"/><text class="lb" x="1737" y="853">UNC93B1</text></g>
<g id="B-ATP1A1"><circle class="hub" cx="1919" cy="780" r="24.5" fill="#a65628" stroke-width="4"/><text class="lb" x="1947" y="781">ATP1A1</text></g>

<!-- Panel C -->
<g id="venn">
<text class="ttl" x="89" y="1311" style="fill:#4eb6d6" textLength="329" lengthAdjust="spacingAndGlyphs">miRTarBase v9.0</text>
<text class="ttl" x="452" y="1311" style="fill:#e3493b" textLength="249" lengthAdjust="spacingAndGlyphs">TarBase v9.0</text>
<g id="set-tarbase"><circle cx="562" cy="1620" r="257" fill="#ebcce8" stroke="#6e6e6e" stroke-width="3.5"/></g>
<g id="set-mirtarbase"><circle cx="269" cy="1618" r="257" fill="rgb(197,229,245)" fill-opacity="0.5" stroke="#6e6e6e" stroke-width="3.5"/></g>
<text class="num" x="148" y="1633">117</text>
<text class="num" x="416" y="1633">40</text>
<text class="num" x="647" y="1633">494</text>
</g>
<g id="callout" fill="none" stroke="#000" stroke-width="3">
<circle cx="416" cy="1497" r="5.5" stroke-width="2.5"/>
<circle cx="416" cy="1763" r="5.5" stroke-width="2.5"/>
<polyline points="420,1494 598,1381 2240,1381"/>
<polyline points="420,1766 597,1877 2240,1877"/>
</g>
<g id="overlap-list">
<text class="tb" x="847" y="1424">hsa-mir-1-3p</text><text class="tb" x="1141" y="1424">hsa-mir-19a-3p</text><text class="tb" x="1417" y="1424">hsa-mir-30d-5p</text><text class="tb" x="1692" y="1424">hsa-mir-133b</text><text class="tb" x="1986" y="1424">hsa-mir-155-3p</text>
<text class="tb" x="847" y="1486">hsa-mir-196a-5p</text><text class="tb" x="1141" y="1486">hsa-mir-19b-3p</text><text class="tb" x="1417" y="1486">hsa-mir-218-5p</text><text class="tb" x="1692" y="1486">hsa-mir-196b-5p</text><text class="tb" x="1986" y="1486">hsa-mir-450b-5p</text>
<text class="tb" x="847" y="1548">hsa-mir-340-5p</text><text class="tb" x="1141" y="1548">hsa-mir-20a-5p</text><text class="tb" x="1417" y="1548">hsa-mir-15b-5p</text><text class="tb" x="1692" y="1548">hsa-mir-484</text><text class="tb" x="1986" y="1548">hsa-mir-522-5p</text>
<text class="tb" x="847" y="1610">hsa-mir-26b-5p</text><text class="tb" x="1141" y="1610">hsa-mir-22-3p</text><text class="tb" x="1417" y="1610">hsa-mir-23b-3p</text><text class="tb" x="1692" y="1610">hsa-mir-486-5p</text><text class="tb" x="1986" y="1610">hsa-mir-1305</text>
<text class="tb" x="847" y="1672">hsa-let-7b-5p</text><text class="tb" x="1141" y="1672">hsa-mir-26a-5p</text><text class="tb" x="1417" y="1672">hsa-mir-142-5p</text><text class="tb" x="1692" y="1672">hsa-mir-579-3p</text><text class="tb" x="1986" y="1672">hsa-mir-548f-3p</text>
<text class="tb" x="847" y="1734">hsa-mir-193b-3p</text><text class="tb" x="1141" y="1734">hsa-mir-92a-3p</text><text class="tb" x="1417" y="1734">hsa-mir-149-5p</text><text class="tb" x="1692" y="1734">hsa-mir-625-5p</text><text class="tb" x="1986" y="1734">hsa-mir-1276</text>
<text class="tb" x="847" y="1796">hsa-let-7f-5p</text><text class="tb" x="1141" y="1796">hsa-mir-197-3p</text><text class="tb" x="1417" y="1796">hsa-mir-320a</text><text class="tb" x="1692" y="1796">hsa-mir-21-3p</text><text class="tb" x="1986" y="1796">hsa-mir-1915-5p</text>
<text class="tb" x="847" y="1858">hsa-mir-18a-5p</text><text class="tb" x="1141" y="1858">hsa-mir-129-5p</text><text class="tb" x="1417" y="1858">hsa-mir-335-5p</text><text class="tb" x="1692" y="1858">hsa-mir-93-3p</text><text class="tb" x="1986" y="1858">hsa-mir-5582-3p</text>
</g>
</svg>
